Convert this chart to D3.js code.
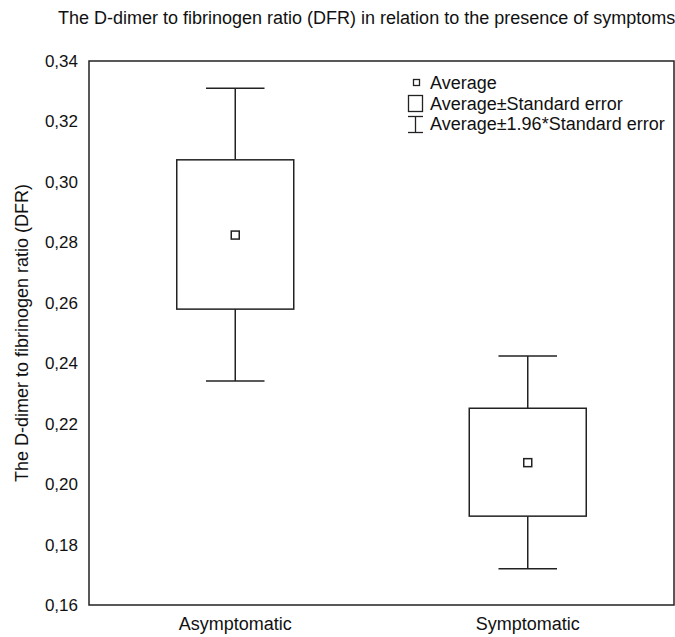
<!DOCTYPE html>
<html>
<head>
<meta charset="utf-8">
<script src="https://cdn.jsdelivr.net/npm/d3@7"></script>
<style>
  html, body { margin: 0; padding: 0; background: #fff; }
  svg { display: block; font-family: "Liberation Sans", Arial, Helvetica, sans-serif; }
</style>
</head>
<body>
<svg id="chart" width="675" height="637"></svg>
<script>
// ---- data ----
const categories = ["Asymptomatic", "Symptomatic"];
const means      = [0.2824, 0.2071];
const seLow      = [0.2579, 0.1894];   // Average - Standard error
const seHigh     = [0.3073, 0.2251];   // Average + Standard error
const ciLow      = [0.2341, 0.1720];   // Average - 1.96*Standard error
const ciHigh     = [0.3310, 0.2424];   // Average + 1.96*Standard error
const yTicks     = [0.16, 0.18, 0.20, 0.22, 0.24, 0.26, 0.28, 0.30, 0.32, 0.34];
const legendItems = ["Average", "Average\u00b1Standard error", "Average\u00b11.96*Standard error"];

const titleText = "The D-dimer to fibrinogen ratio (DFR) in relation to the presence of symptoms";
const yLabelText = "The D-dimer to fibrinogen ratio (DFR)";

const rows = categories.map((c, i) => ({
  cat: c, mean: means[i], lo: seLow[i], hi: seHigh[i], ciLo: ciLow[i], ciHi: ciHigh[i]
}));

// ---- layout ----
const svg = d3.select("#chart");
const L = 89, R = 674, T = 61, B = 605;
const ink = "#222";

const x = d3.scaleBand().domain(categories).range([L, R]).padding(0);
const y = d3.scaleLinear().domain([0.16, 0.34]).range([B, T]);

// title
svg.append("text")
  .attr("x", 58).attr("y", 24)
  .attr("font-size", 18).attr("fill", "#111")
  .text(titleText);

// y label
svg.append("text")
  .attr("transform", `translate(28,${(T + B) / 2}) rotate(-90)`)
  .attr("text-anchor", "middle")
  .attr("font-size", 18).attr("fill", "#111")
  .text(yLabelText);

// y axis labels
const yAxis = d3.axisLeft(y).tickValues(yTicks).tickSize(0).tickPadding(11)
  .tickFormat(d => d3.format(".2f")(d).replace(".", ","));
const gy = svg.append("g").attr("transform", `translate(${L},0)`).call(yAxis);
gy.select(".domain").remove();
gy.selectAll("text").attr("font-size", 17).attr("fill", "#111")
  .attr("font-family", "Liberation Sans, Arial, sans-serif");

// x axis labels
const xAxis = d3.axisBottom(x).tickSize(0).tickPadding(12);
const gx = svg.append("g").attr("transform", `translate(0,${B})`).call(xAxis);
gx.select(".domain").remove();
gx.selectAll("text").attr("font-size", 18).attr("fill", "#111")
  .attr("font-family", "Liberation Sans, Arial, sans-serif");

// marks
const bw = x.bandwidth();
const boxW = bw * 0.4, capW = bw * 0.2, mk = 8;
const g = svg.append("g").attr("fill", "none").attr("stroke", ink).attr("stroke-width", 1.5);
const grp = g.selectAll("g.item").data(rows).join("g").attr("class", "item");

grp.append("line")
  .attr("x1", d => x(d.cat) + bw / 2).attr("x2", d => x(d.cat) + bw / 2)
  .attr("y1", d => y(d.ciHi)).attr("y2", d => y(d.hi));
grp.append("line")
  .attr("x1", d => x(d.cat) + bw / 2).attr("x2", d => x(d.cat) + bw / 2)
  .attr("y1", d => y(d.lo)).attr("y2", d => y(d.ciLo));
grp.append("line")
  .attr("x1", d => x(d.cat) + bw / 2 - capW / 2).attr("x2", d => x(d.cat) + bw / 2 + capW / 2)
  .attr("y1", d => y(d.ciHi)).attr("y2", d => y(d.ciHi));
grp.append("line")
  .attr("x1", d => x(d.cat) + bw / 2 - capW / 2).attr("x2", d => x(d.cat) + bw / 2 + capW / 2)
  .attr("y1", d => y(d.ciLo)).attr("y2", d => y(d.ciLo));
grp.append("rect")
  .attr("x", d => x(d.cat) + bw / 2 - boxW / 2).attr("width", boxW)
  .attr("y", d => y(d.hi)).attr("height", d => y(d.lo) - y(d.hi))
  .attr("fill", "#fff");
grp.append("rect")
  .attr("x", d => x(d.cat) + bw / 2 - mk / 2).attr("width", mk)
  .attr("y", d => y(d.mean) - mk / 2).attr("height", mk)
  .attr("fill", "#fff");

// frame
svg.append("rect").attr("x", L).attr("y", T).attr("width", R - L).attr("height", B - T)
  .attr("fill", "none").attr("stroke", ink).attr("stroke-width", 1.5);

// legend
const lg = svg.append("g").attr("font-size", 18).attr("fill", "#111");
const lx = 430, ly0 = 89, dy = 20.5;
lg.selectAll("text").data(legendItems).join("text")
  .attr("x", lx).attr("y", (d, i) => ly0 + i * dy).text(d => d);
const ls = svg.append("g").attr("fill", "#fff").attr("stroke", ink).attr("stroke-width", 1.3);
ls.append("rect").attr("x", 413.5).attr("y", 79.5).attr("width", 6).attr("height", 6);
ls.append("rect").attr("x", 408.5).attr("y", 95.5).attr("width", 14).attr("height", 16);
ls.append("line").attr("x1", 415.5).attr("x2", 415.5).attr("y1", 116.5).attr("y2", 132.5);
ls.append("line").attr("x1", 408).attr("x2", 423).attr("y1", 116.5).attr("y2", 116.5);
ls.append("line").attr("x1", 408).attr("x2", 423).attr("y1", 132.5).attr("y2", 132.5);
</script>
</body>
</html>
